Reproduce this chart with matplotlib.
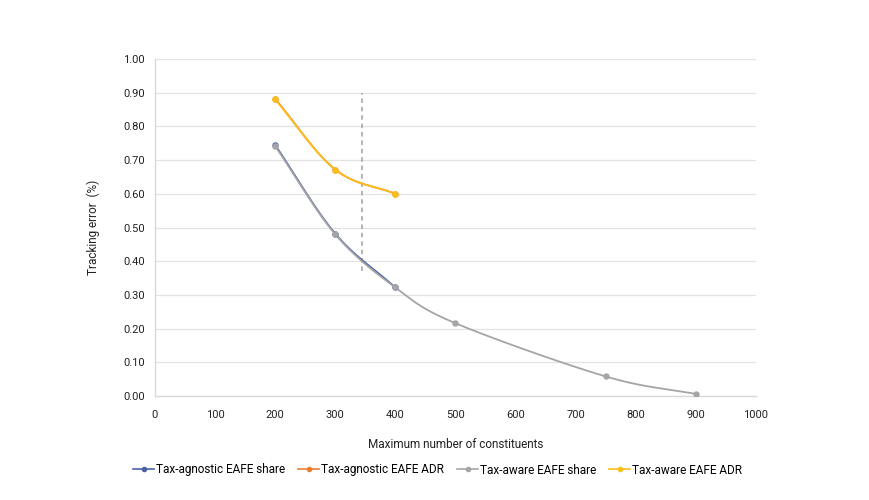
import numpy as np
import matplotlib
matplotlib.use("Agg")
import matplotlib.pyplot as plt

plt.rcParams['font.family'] = ['Roboto', 'DejaVu Sans']

# data
SHARE_X = [200, 300, 400, 500, 750, 900]
AGNOSTIC_SHARE = [0.745, 0.482, 0.322]
AWARE_SHARE = [0.742, 0.480, 0.322, 0.216, 0.058, 0.006]
ADR_X = [200, 300, 400]
AGNOSTIC_ADR = [0.882, 0.672, 0.600]
AWARE_ADR = [0.880, 0.672, 0.600]
CUTOFF_X = 345
CUTOFF_Y = [0.37, 0.90]

X_TICKS = list(range(0, 1001, 100))
Y_TICKS = [i / 10 for i in range(11)]


def smooth(x, y, n=40):
    """Catmull-Rom style smoothing like Excel's smoothed lines"""
    x = np.asarray(x, float)
    y = np.asarray(y, float)
    if len(x) < 3:
        return x, y
    px = np.concatenate([[2 * x[0] - x[1]], x, [2 * x[-1] - x[-2]]])
    py = np.concatenate([[2 * y[0] - y[1]], y, [2 * y[-1] - y[-2]]])
    xs, ys = [], []
    for i in range(1, len(px) - 2):
        t = np.linspace(0, 1, n)
        for p, out in ((px, xs), (py, ys)):
            p0, p1, p2, p3 = p[i - 1], p[i], p[i + 1], p[i + 2]
            out.append(0.5 * ((2 * p1) + (-p0 + p2) * t
                              + (2 * p0 - 5 * p1 + 4 * p2 - p3) * t ** 2
                              + (-p0 + 3 * p1 - 3 * p2 + p3) * t ** 3))
    return np.concatenate(xs), np.concatenate(ys)


fig = plt.figure(figsize=(8.7, 5), dpi=100)
ax = fig.add_axes([0.178, 0.208, 0.691, 0.674])

series = [
    ("Tax-agnostic EAFE share", SHARE_X[:3], AGNOSTIC_SHARE, "#4a61a8"),
    ("Tax-agnostic EAFE ADR", ADR_X, AGNOSTIC_ADR, "#ed7d31"),
    ("Tax-aware EAFE share", SHARE_X, AWARE_SHARE, "#a5a5a5"),
    ("Tax-aware EAFE ADR", ADR_X, AWARE_ADR, "#fbbf1b"),
]
for label, xs, ys, col in series:
    sx, sy = smooth(xs, ys)
    ax.plot(sx, sy, color=col, lw=1.3, zorder=3)
    ax.plot(xs, ys, 'o', color=col, ms=3.6, zorder=4)
    ax.plot([], [], color=col, lw=1.2, marker='o', ms=3, label=label)

ax.plot([CUTOFF_X, CUTOFF_X], CUTOFF_Y, color="#a0a0a0", lw=1.1,
        ls=(0, (3, 2.5)), zorder=2)

ax.set_xlim(0, 1000)
ax.set_ylim(0, 1.0)
ax.set_xticks(X_TICKS)
ax.set_yticks(Y_TICKS)
ax.set_yticklabels([f"{v:.2f}" for v in Y_TICKS])
ax.tick_params(length=0, labelsize=8, colors="#222222")
ax.tick_params(axis='x', pad=10)
ax.tick_params(axis='y', pad=7)
ax.grid(axis='y', color="#e3e3e3", lw=0.9)
ax.set_axisbelow(True)
for s in ['top', 'right']:
    ax.spines[s].set_visible(False)
for s in ['left', 'bottom']:
    ax.spines[s].set_color("#d9d9d9")
    ax.spines[s].set_linewidth(1)

ax.set_xlabel("Maximum number of constituents", fontsize=8.5, color="#222222", labelpad=13)
ax.set_ylabel("Tracking error  (%)", fontsize=8.5, color="#222222", labelpad=17)

fig.legend(loc='center', bbox_to_anchor=(0.503, 0.06), ncol=4, frameon=False,
           fontsize=8.5, handlelength=1.8, handletextpad=0.15, columnspacing=1.1)

fig.savefig("out.png", dpi=100)
